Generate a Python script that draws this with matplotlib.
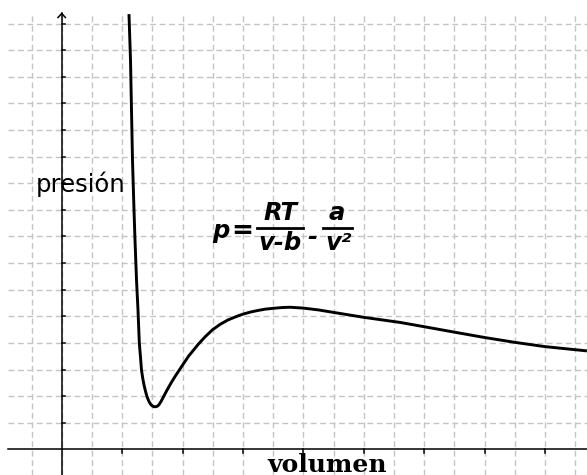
import matplotlib
matplotlib.use("Agg")
import matplotlib.pyplot as plt

plt.rcParams['lines.scale_dashes'] = False

# ---- data (in grid-cell units) ----
volume = [2.228, 2.278, 2.311, 2.344, 2.394, 2.427, 2.477, 2.526, 2.570, 2.610,
          2.642, 2.685, 2.725, 2.775, 2.825, 2.880, 2.940, 3.000, 3.050, 3.090,
          3.130, 3.180, 3.222, 3.290, 3.364, 3.480, 3.619, 3.760, 3.917, 4.200,
          4.523, 4.750, 5.000, 5.250, 5.500, 5.800, 6.000, 6.250, 6.500, 6.750,
          7.000, 7.300, 7.560, 7.990, 8.500, 8.983, 10.010, 11.202, 11.997, 13.023,
          14.017, 15.010, 16.003, 17.391]
pressure = [16.36, 14.64, 12.76, 10.88, 9.00, 7.87, 6.37, 5.24, 4.00, 3.45,
            2.98, 2.66, 2.42, 2.18, 1.98, 1.82, 1.70, 1.63, 1.605, 1.60,
            1.605, 1.63, 1.68, 1.80, 1.96, 2.21, 2.49, 2.75, 3.02, 3.50,
            3.95, 4.23, 4.50, 4.70, 4.86, 5.00, 5.08, 5.16, 5.22, 5.27,
            5.30, 5.33, 5.34, 5.31, 5.24, 5.15, 4.96, 4.77, 4.61, 4.40,
            4.20, 4.02, 3.86, 3.70]

x_grid = list(range(-1, 18))
y_grid = list(range(1, 17))
x_ticks = list(range(2, 17, 2))
y_ticks = list(range(1, 17))

x_label = "volumen"
y_label = "presión"

# ---- layout ----
W, H = 587, 475
X0, Y0 = 61.7, 449.3      # origin in pixels
SX, SY = 30.2, 26.6       # pixels per grid cell

fig = plt.figure(figsize=(W / 100, H / 100), dpi=100)
ax = fig.add_axes([0, 0, 1, 1])
ax.set_xlim(-X0 / SX, (W - X0) / SX)
ax.set_ylim(-(H - Y0) / SY, Y0 / SY)
ax.axis('off')

xmin, xmax = ax.get_xlim()
ymin, ymax = ax.get_ylim()
y_top = (Y0 - 13.5) / SY
x_left = (8.3 - X0) / SX

grid_kw = dict(color='#c4c4c4', lw=1.0, dashes=(4.2, 2.6), zorder=1)
for gx in x_grid:
    ax.plot([gx, gx], [ymin, y_top], **grid_kw)
for gy in y_grid:
    ax.plot([x_left, xmax], [gy, gy], **grid_kw)

# axes
ax.plot([x_left, xmax], [0, 0], color='black', lw=1.1, zorder=2)
ax.plot([0, 0], [ymin, y_top], color='black', lw=1.1, zorder=2)
aw, ah = 3.7 / SX, 4.0 / SY
ax.plot([-aw, 0, aw], [y_top - ah, y_top, y_top - ah], color='black', lw=1.1,
        zorder=2, solid_joinstyle='miter')

# ticks
for t in x_ticks:
    ax.plot([t, t], [0, -3.5 / SY], color='black', lw=1.1, zorder=2)
for t in y_ticks:
    ax.plot([0, 3.0 / SX], [t, t], color='black', lw=1.1, zorder=2)

# curve
ax.plot(volume, pressure, color='black', lw=2.1, zorder=3,
        solid_capstyle='butt', solid_joinstyle='round')

def px(x, y):
    return x / W, 1 - y / H

# labels
fig.text(*px(36, 192), y_label, fontsize=17.5, family='DejaVu Sans',
         ha='left', va='baseline')
fig.text(*px(326.7, 472.5), x_label, fontsize=18, family='DejaVu Serif',
         weight='bold', ha='center', va='baseline')

# formula
fkw = dict(fontsize=17.5, family='DejaVu Sans', weight='bold', style='italic',
           va='baseline')
fig.text(*px(221, 238), 'p', ha='center', **fkw)
fig.text(*px(242.5, 238), '=', ha='center', fontsize=19, family='DejaVu Sans',
         weight='bold', va='baseline')
fig.text(*px(280.2, 220), 'RT', ha='center', **fkw)
fig.text(*px(280.0, 250), 'v-b', ha='center', **fkw)
fig.text(*px(312, 244), '-', ha='center', **fkw)
fig.text(*px(337, 220), 'a', ha='center', **fkw)
fig.text(*px(339, 250), 'v²', ha='center', **fkw)
for (a, b) in [(256.7, 302.7), (322.7, 351.7)]:
    fig.add_artist(plt.Line2D([a / W, b / W], [1 - 227.7 / H, 1 - 227.7 / H],
                              transform=fig.transFigure, color='black', lw=2.0))

fig.savefig('out.png', dpi=100)
